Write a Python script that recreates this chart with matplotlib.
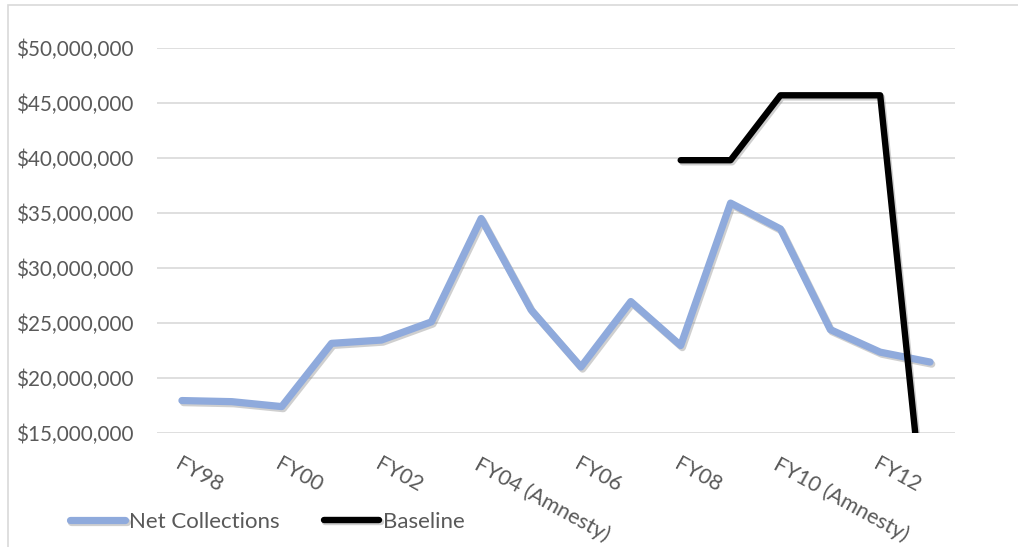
import matplotlib.pyplot as plt
import matplotlib.patheffects as pe
from matplotlib.patches import Rectangle
from matplotlib.ticker import FuncFormatter

plt.rcParams['font.family'] = ['Lato', 'DejaVu Sans']

years = ["FY98", "FY99", "FY00", "FY01", "FY02", "FY03", "FY04 (Amnesty)", "FY05",
         "FY06", "FY07", "FY08", "FY09", "FY10 (Amnesty)", "FY11", "FY12", "FY13"]
net_collections = [17.95, 17.85, 17.4, 23.15, 23.45, 25.1, 34.5, 26.2,
                   21.0, 26.95, 22.95, 35.9, 33.55, 24.4, 22.35, 21.45]
baseline = [None] * 10 + [39.8, 39.8, 45.7, 45.7, 45.7, 2.0]

text_color = "#595959"
blue = "#8FAADC"

fig = plt.figure(figsize=(10.18, 5.47), dpi=100)
ax = fig.add_axes([157 / 1018, 1 - 433 / 547, 798 / 1018, 385 / 547])

# chart area border (only left and top edges are visible in the crop)
fig.patches.append(Rectangle((8 / 1018, -0.1), 1.2, 1.1 - 5 / 547, transform=fig.transFigure,
                             fill=False, edgecolor="#D9D9D9", linewidth=1.2))

x = list(range(len(years)))
shadow = [pe.SimpleLineShadow(offset=(1.2, -1.5), shadow_color="#777777", alpha=0.35), pe.Normal()]

ax.plot(x, [v * 1e6 for v in net_collections], color=blue, linewidth=5.2,
        solid_capstyle="round", solid_joinstyle="round", path_effects=shadow,
        label="Net Collections", zorder=3)
bx = [i for i, v in zip(x, baseline) if v is not None]
by = [v * 1e6 for v in baseline if v is not None]
ax.plot(bx, by, color="black", linewidth=4.6, solid_capstyle="round",
        solid_joinstyle="round", path_effects=shadow, label="Baseline", zorder=4)

ax.set_xlim(-0.5, len(years) - 0.5)
ax.set_ylim(15e6, 50e6)
ax.set_yticks([15e6 + 5e6 * i for i in range(8)])
ax.yaxis.set_major_formatter(FuncFormatter(lambda v, p: f"${v:,.0f}"))
ax.grid(axis="y", color="#D9D9D9", linewidth=1.2)
ax.set_axisbelow(True)
for s in ax.spines.values():
    s.set_visible(False)
ax.tick_params(axis="both", length=0, colors=text_color)
ax.tick_params(axis="y", pad=17, labelsize=14.9)

ax.set_xticks(x[::2])
ax.set_xticklabels(years[::2], rotation=-29, ha="left", va="top",
                   rotation_mode="anchor", color=text_color, fontsize=15.5)
ax.tick_params(axis="x", pad=15)

fig.legend(loc="center", bbox_to_anchor=(267 / 1018, 1 - 522 / 547), ncol=2,
           frameon=False, fontsize=16, handlelength=2.5, columnspacing=2.0,
           handletextpad=0.15, labelcolor=text_color)

fig.savefig("out.png", dpi=100)
